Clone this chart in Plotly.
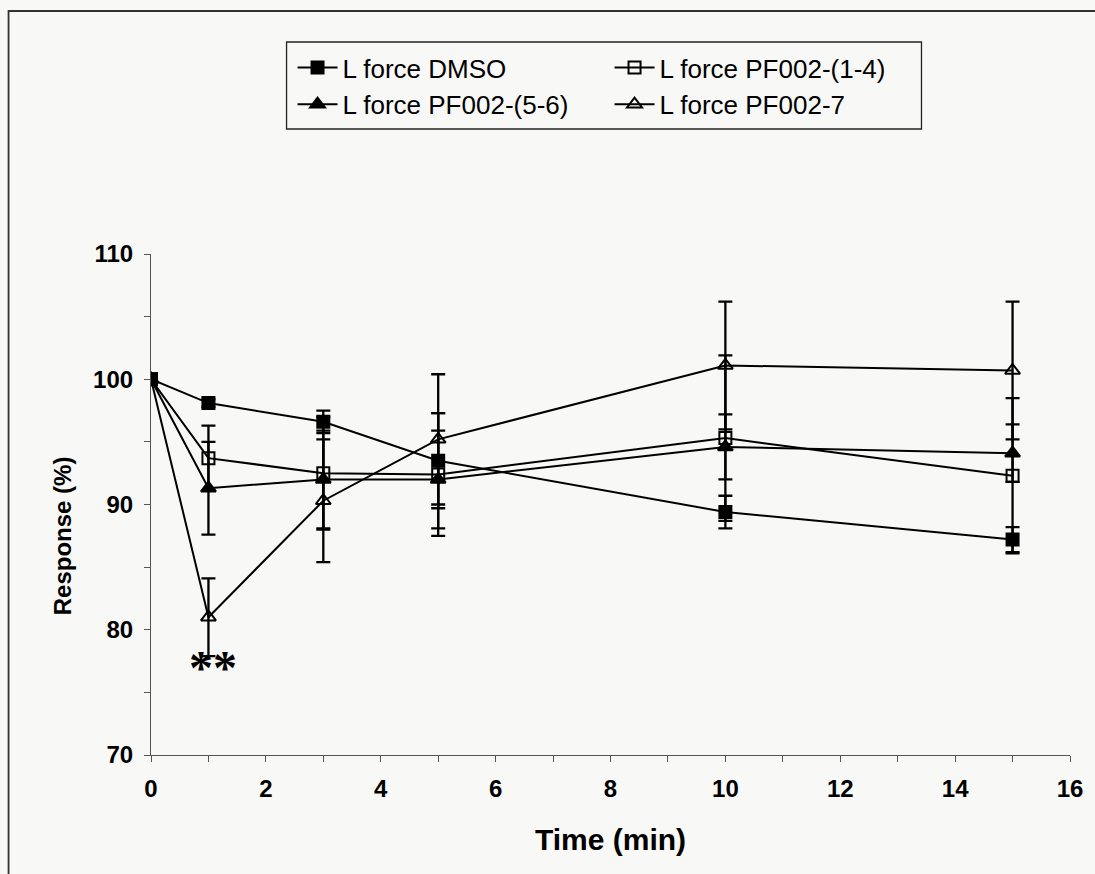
import plotly.graph_objects as go

time_min = [0, 1, 3, 5, 10, 15]

dmso = [100, 98.1, 96.6, 93.5, 89.4, 87.2]
dmso_err = [0, 0.3, 0.9, 3.8, 1.3, 1.0]

pf14 = [100, 93.7, 92.5, 92.4, 95.3, 92.3]
pf14_err = [0, 2.6, 4.5, 4.9, 6.6, 6.2]

pf56 = [100, 91.3, 92.0, 92.0, 94.6, 94.1]
pf56_err = [0, 3.7, 3.9, 3.9, 2.6, 2.3]

pf7 = [100, 81.0, 90.3, 95.2, 101.1, 100.7]
pf7_err = [0, 3.1, 4.9, 5.2, 5.1, 5.5]

names = ["L force DMSO", "L force PF002-(1-4)", "L force PF002-(5-6)", "L force PF002-7"]
symbols = ["square", "square-open", "triangle-up", "triangle-up-open"]
FONT = "Liberation Sans, Arial, sans-serif"
BG = "#f8f8f6"

fig = go.Figure()
series = [
    (pf7, pf7_err, 3),
    (pf56, pf56_err, 2),
    (pf14, pf14_err, 1),
    (dmso, dmso_err, 0),
]
for vals, errs, i in series:
    fig.add_trace(go.Scatter(
        x=time_min, y=vals, name=names[i], legendrank=i + 1,
        mode="lines+markers",
        line=dict(color="black", width=2),
        marker=dict(symbol=symbols[i], size=13 if "triangle" in symbols[i] else 12,
                    color="black", line=dict(color="black", width=2)),
        error_y=dict(type="data", array=errs, visible=True, color="black",
                     thickness=2.3, width=7),
    ))

fig.add_annotation(x=1.08, y=77.0, xref="x", yref="y", text="<b>**</b>", showarrow=False,
                   font=dict(family="Liberation Serif, Times New Roman, serif", size=48, color="black"),
                   yanchor="middle")

# y-axis title (placed lower than the axis centre, as in the original)
fig.add_annotation(x=(62 - 151) / 922, y=(755 - 536) / 501, xref="paper", yref="paper",
                   text="<b>Response (%)</b>", textangle=-90, showarrow=False,
                   font=dict(family=FONT, size=24, color="black"),
                   xanchor="center", yanchor="middle")

# outer frame of the figure
fig.add_shape(type="rect", xref="paper", yref="paper",
              x0=-0.155, x1=1.05, y0=-0.3, y1=1.485,
              line=dict(color="#333", width=1.8), fillcolor="rgba(0,0,0,0)", layer="below")
# legend box
fig.add_shape(type="rect", xref="paper", yref="paper",
              x0=(287 - 151) / 922, x1=(924 - 151) / 922,
              y0=(755 - 129) / 501, y1=(755 - 42) / 501,
              line=dict(color="#222", width=1.3), fillcolor="rgba(0,0,0,0)", layer="below")

fig.update_layout(
    width=1095, height=874,
    margin=dict(l=151, r=22, t=254, b=119),
    paper_bgcolor=BG, plot_bgcolor=BG,
    font=dict(family=FONT, color="black"),
    showlegend=True,
    legend=dict(orientation="h", x=(293 - 151) / 922, xanchor="left",
                y=(755 - 44) / 501, yanchor="top",
                entrywidth=262, entrywidthmode="pixels",
                borderwidth=0, bgcolor="rgba(0,0,0,0)",
                font=dict(family=FONT, size=26, color="black"),
                traceorder="normal", itemwidth=40),
    xaxis=dict(range=[0, 16], dtick=2, tick0=0, showgrid=False, zeroline=False,
               showline=True, linecolor="#555", linewidth=1.2,
               ticks="outside", ticklen=6, tickcolor="#555", tickwidth=1.2,
               minor=dict(dtick=1, ticks="outside", ticklen=6, tickcolor="#555", tickwidth=1.2),
               tickfont=dict(family=FONT, size=24, color="black", weight="bold"),
               ticklabelstandoff=6,
               title=dict(text="Time (min)", font=dict(family=FONT, size=30, weight="bold"),
                          standoff=28)),
    yaxis=dict(range=[70, 110], dtick=10, tick0=70, showgrid=False, zeroline=False,
               showline=True, linecolor="#555", linewidth=1.2,
               ticks="outside", ticklen=6, tickcolor="#555", tickwidth=1.2,
               minor=dict(dtick=5, ticks="outside", ticklen=6, tickcolor="#555", tickwidth=1.2),
               tickfont=dict(family=FONT, size=24, color="black", weight="bold"),
               ticklabelstandoff=6),
)

fig.write_html("out.html")
